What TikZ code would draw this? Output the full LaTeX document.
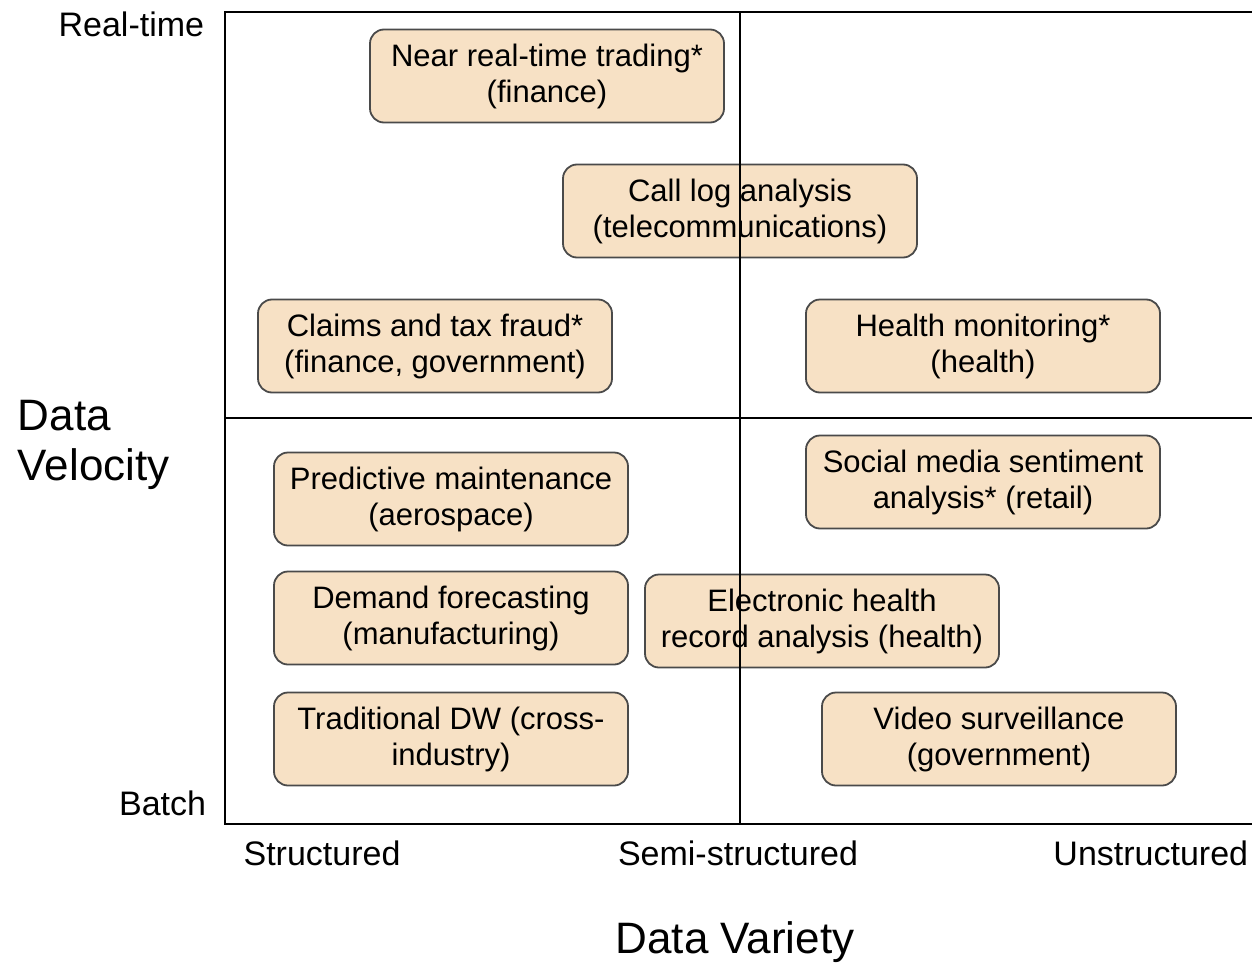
\documentclass[tikz,border=0pt]{standalone}
\usepackage{fontspec}
\setmainfont{Liberation Sans}
\usetikzlibrary{positioning}
\definecolor{boxfill}{HTML}{F7E1C5}
\definecolor{boxline}{HTML}{4A4A4A}

\begin{document}
\begin{tikzpicture}[x=0.5pt,y=-0.5pt]
\tikzstyle{every path}=[line width=0.9pt]
\tikzstyle{usecase}=[draw=boxline,fill=boxfill,rounded corners=7pt,
  minimum width=177pt,minimum height=46.5pt,align=center,inner sep=0pt,
  font=\fontsize{15.5}{18}\selectfont]
\tikzstyle{ticklabel}=[inner sep=0pt,font=\fontsize{17}{20}\selectfont]
\tikzstyle{axislabel}=[inner sep=0pt,align=left,font=\fontsize{22}{25}\selectfont]

\useasboundingbox (0,0) rectangle (1252,963);

%% Use cases
\node [usecase] (trading) at (547,76) {Near real-time trading*\\(finance)};
\node [usecase] (calllog) at (740,211) {Call log analysis\\(telecommunications)};
\node [usecase] (fraud) at (435,346) {Claims and tax fraud*\\(finance, government)};
\node [usecase] (healthmon) at (983,346) {Health monitoring*\\(health)};
\node [usecase] (maint) at (451,499) {Predictive maintenance\\(aerospace)};
\node [usecase] (social) at (983,482) {Social media sentiment\\analysis* (retail)};
\node [usecase] (demand) at (451,618) {Demand forecasting\\(manufacturing)};
\node [usecase] (ehr) at (822,621) {Electronic health\\record analysis (health)};
\node [usecase] (dw) at (451,739) {Traditional DW (cross-\\industry)};
\node [usecase] (video) at (999,739) {Video surveillance\\(government)};

%% Frame and quadrants
\coordinate (tl) at (225,12);
\coordinate (bl) at (225,824);
\draw (1252,12) -- (tl) -- (bl) -- (1252,824);
\draw (225,418) -- (1252,418);
\draw (740,12) -- (740,824);

%% Axis labels
\node [ticklabel,anchor=east] (realtime) at (205,24) {Real-time};
\node [ticklabel,anchor=east] (batch) at (207,803) {Batch};
\node [axislabel,anchor=west] (velocity) at (17,445) {Data\\Velocity};
\node [ticklabel] (structured) at (322,853) {Structured};
\node [ticklabel] (semi) at (738,853) {Semi-structured};
\node [ticklabel,anchor=east] (unstructured) at (1249,853) {Unstructured};
\node [axislabel] (variety) at (735,942) {Data Variety};
\end{tikzpicture}
\end{document}
